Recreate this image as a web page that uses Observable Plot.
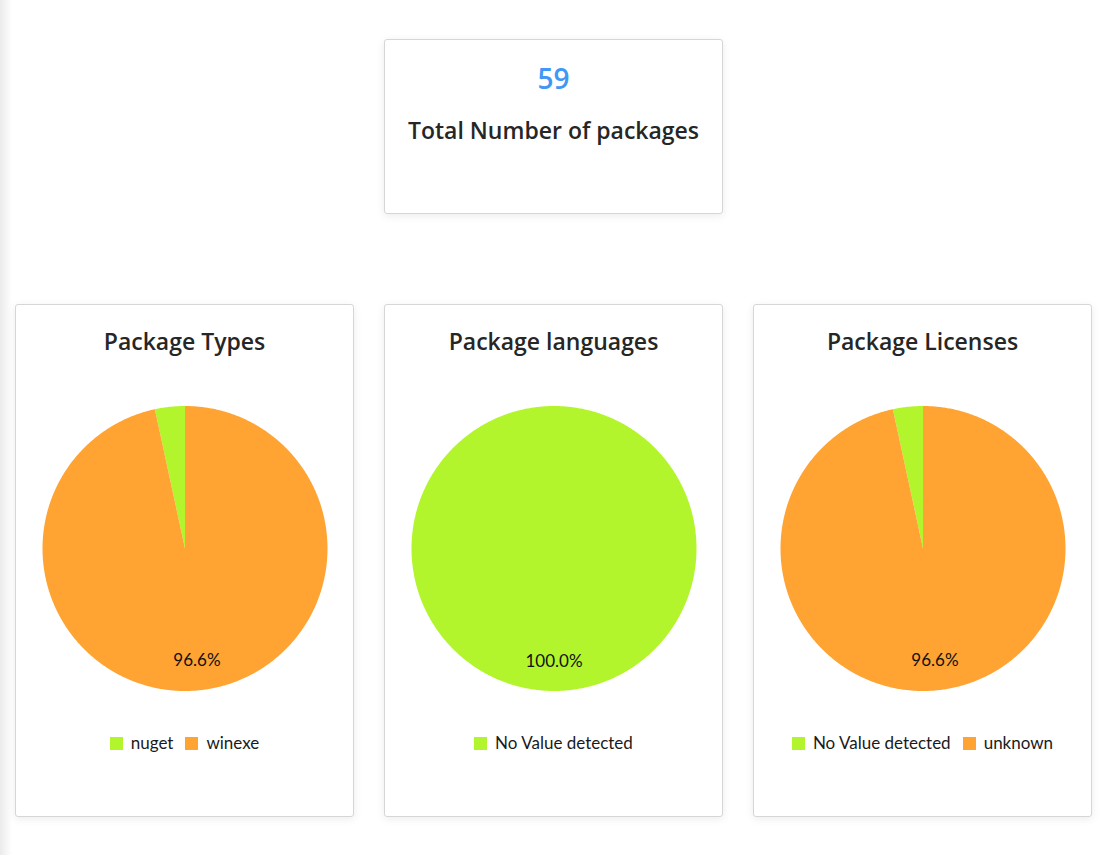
<!DOCTYPE html>
<html>
<head>
<meta charset="utf-8">
<script src="https://cdn.jsdelivr.net/npm/d3@7"></script>
<script src="https://cdn.jsdelivr.net/npm/@observablehq/plot@0.6"></script>
<style>
  html, body { margin: 0; padding: 0; background: #fff; }
  body { width: 1108px; height: 855px; position: relative; overflow: hidden; font-family: "Open Sans", sans-serif; }
  .edge { position: absolute; left: 0; top: 0; width: 12px; height: 855px; background: linear-gradient(to right, #ebebeb, #ffffff); }
  .card { position: absolute; box-sizing: border-box; background: #fff; border: 1px solid #d6d6d6; border-radius: 3px; box-shadow: 0 2px 8px rgba(0,0,0,0.08); }
  .txt { position: absolute; left: 0; width: 100%; text-align: center; color: #262626; white-space: nowrap; font-weight: 600; }
  .plotwrap { position: absolute; left: 0; top: 93px; }
  .legend { position: absolute; left: 0; width: 100%; top: 428px; display: flex; justify-content: center; gap: 12px; font-family: Lato, sans-serif; font-size: 17px; color: #1a1a1a; line-height: 20px; }
  .legend .item { display: flex; align-items: center; }
  .legend .sw { width: 13px; height: 13px; margin-right: 8px; }
</style>
</head>
<body>
<div class="edge"></div>
<div id="root"></div>
<script>
// ---- data ----
const totalPackages = 59;
const totalLabel = "Total Number of packages";

const chartTitles = ["Package Types", "Package languages", "Package Licenses"];

const typeCategories = ["nuget", "winexe"];
const typeValues = [2, 57];

const languageCategories = ["No Value detected"];
const languageValues = [59];

const licenseCategories = ["No Value detected", "unknown"];
const licenseValues = [2, 57];

const sliceColors = ["#b3f52c", "#ffa333"];

// ---- layout ----
(function () {
const root = document.getElementById("root");

const topCard = document.createElement("div");
topCard.className = "card";
Object.assign(topCard.style, {left: "384px", top: "39px", width: "339px", height: "175px"});
topCard.innerHTML = `<div class="txt" style="top:19px;font-size:28px;line-height:38px;color:#4097f5;">${totalPackages}</div>
<div class="txt" style="top:73px;font-size:23px;line-height:34px;">${totalLabel}</div>`;
root.appendChild(topCard);

const charts = [
  {title: chartTitles[0], cats: typeCategories, vals: typeValues, left: 15},
  {title: chartTitles[1], cats: languageCategories, vals: languageValues, left: 384},
  {title: chartTitles[2], cats: licenseCategories, vals: licenseValues, left: 753}
];

const W = 337, H = 300, R = 142.5;

for (const c of charts) {
  const card = document.createElement("div");
  card.className = "card";
  Object.assign(card.style, {left: c.left + "px", top: "304px", width: "339px", height: "513px"});
  const t = document.createElement("div");
  t.className = "txt";
  Object.assign(t.style, {top: "19px", fontSize: "23px", lineHeight: "34px"});
  t.textContent = c.title;
  card.appendChild(t);

  const data = c.cats.map((k, i) => ({key: k, value: c.vals[i]}));
  const total = d3.sum(data, d => d.value);
  const arcs = d3.pie().sort(null).value(d => d.value).startAngle(2 * Math.PI).endAngle(0)(data);

  const pts = [];
  const labels = [];
  for (const a of arcs) {
    const a0 = Math.min(a.startAngle, a.endAngle), a1 = Math.max(a.startAngle, a.endAngle);
    const n = Math.max(2, Math.ceil((a1 - a0) / (Math.PI / 360)));
    pts.push({key: a.data.key, x: 0, y: 0});
    for (let j = 0; j <= n; j++) {
      const ang = a0 + (a1 - a0) * j / n;
      pts.push({key: a.data.key, x: Math.sin(ang), y: Math.cos(ang)});
    }
    pts.push({key: a.data.key, x: 0, y: 0});
    const frac = a.data.value / total;
    if (frac > 0.05) {
      const mid = (a0 + a1) / 2;
      labels.push({x: 0.79 * Math.sin(mid), y: 0.79 * Math.cos(mid), text: (frac * 100).toFixed(1) + "%"});
    }
  }

  const mx = (W - 2 * R) / 2, my = (H - 2 * R) / 2;
  const plot = Plot.plot({
    width: W, height: H,
    marginLeft: mx, marginRight: mx, marginTop: my, marginBottom: my,
    x: {domain: [-1, 1], axis: null},
    y: {domain: [-1, 1], axis: null},
    color: {domain: c.cats, range: sliceColors.slice(0, c.cats.length)},
    style: {background: "transparent", overflow: "visible"},
    marks: [
      Plot.line(pts, {x: "x", y: "y", z: "key", fill: "key", stroke: null, curve: "linear"}),
      Plot.text(labels, {x: "x", y: "y", text: "text", fill: "#111", fontSize: 17, fontFamily: "Lato, sans-serif"})
    ]
  });
  const wrap = document.createElement("div");
  wrap.className = "plotwrap";
  wrap.appendChild(plot);
  card.appendChild(wrap);

  const leg = document.createElement("div");
  leg.className = "legend";
  c.cats.forEach((k, i) => {
    const it = document.createElement("div");
    it.className = "item";
    it.innerHTML = `<span class="sw" style="background:${sliceColors[i]}"></span><span>${k}</span>`;
    leg.appendChild(it);
  });
  card.appendChild(leg);

  root.appendChild(card);
}
})();
</script>
</body>
</html>
